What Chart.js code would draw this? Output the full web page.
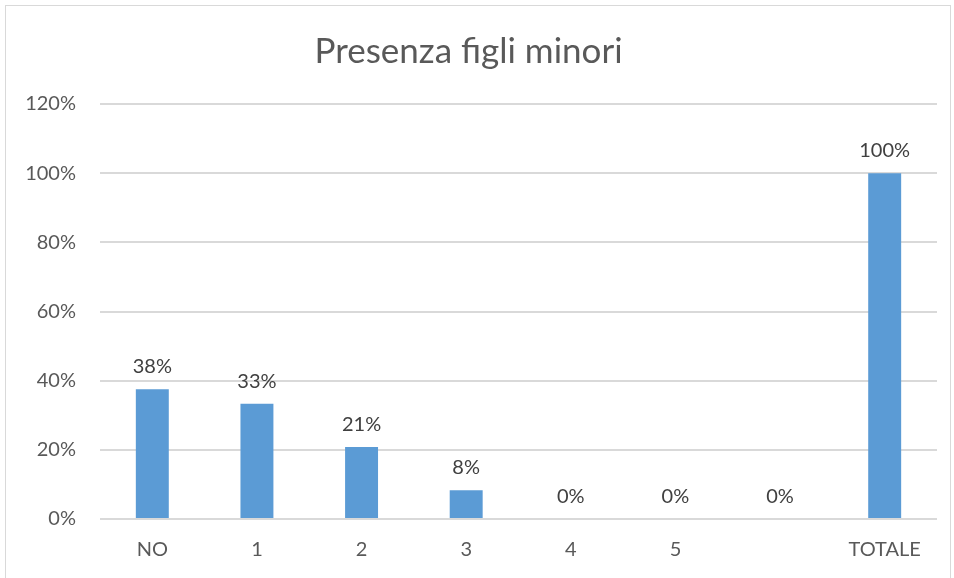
<!DOCTYPE html>
<html>
<head>
<meta charset="utf-8">
<script src="https://cdn.jsdelivr.net/npm/chart.js@4/dist/chart.umd.min.js"></script>
<style>
  html, body { margin: 0; padding: 0; background: #fff; overflow: hidden; }
  #wrap { position: relative; width: 954px; height: 578px; }
  #frame { position: absolute; left: 5px; top: 5px; width: 946px; height: 590px; border: 1px solid #d9d9d9; box-sizing: border-box; pointer-events: none; }
  canvas { position: absolute; left: 0; top: 0; }
</style>
</head>
<body>
<div id="wrap">
  <canvas id="c" width="954" height="578"></canvas>
  <div id="frame"></div>
</div>
<script>
const categories = ["NO", "1", "2", "3", "4", "5", "", "TOTALE"];
const values = [37.5, 33.3, 20.8, 8.3, 0, 0, 0, 100];
const valueLabels = ["38%", "33%", "21%", "8%", "0%", "0%", "0%", "100%"];
const yTicks = [0, 20, 40, 60, 80, 100, 120];
const chartTitle = "Presenza figli minori";

const FONT = "Lato, 'Open Sans', sans-serif";

const labelPlugin = {
  id: "valueLabels",
  afterDatasetsDraw(chart) {
    const ctx = chart.ctx;
    const meta = chart.getDatasetMeta(0);
    ctx.save();
    ctx.font = "20px " + FONT;
    ctx.fillStyle = "#404040";
    ctx.textAlign = "center";
    ctx.textBaseline = "alphabetic";
    meta.data.forEach((bar, i) => {
      ctx.fillText(valueLabels[i], bar.x, bar.y - 16);
    });
    ctx.restore();
  }
};

new Chart(document.getElementById("c"), {
  type: "bar",
  data: {
    labels: categories,
    datasets: [{
      data: values,
      backgroundColor: "#5b9bd5",
      borderWidth: 0,
      barPercentage: 0.63,
      categoryPercentage: 0.5
    }]
  },
  options: {
    responsive: false,
    animation: false,
    devicePixelRatio: 1,
    layout: { padding: { left: 0, right: 17, top: 0, bottom: 0 } },
    plugins: {
      legend: { display: false },
      tooltip: { enabled: false },
      title: {
        display: true,
        text: chartTitle,
        color: "#595959",
        font: { family: FONT, size: 35, weight: "400", lineHeight: 1.2 },
        padding: { top: 31, bottom: 31 }
      }
    },
    scales: {
      x: {
        grid: { display: false, drawTicks: false },
        border: { display: false },
        ticks: { color: "#595959", font: { family: FONT, size: 20 }, padding: 19 },
        afterFit(s) { s.height = 59; }
      },
      y: {
        min: 0, max: 120,
        afterBuildTicks(s) { s.ticks = yTicks.map(v => ({ value: v })); },
        grid: { color: "#d9d9d9", lineWidth: 2, drawTicks: false },
        border: { display: false },
        ticks: {
          color: "#595959",
          font: { family: FONT, size: 20 },
          padding: 24,
          callback: v => v + "%"
        },
        afterFit(s) { s.width = 100; }
      }
    }
  },
  plugins: [labelPlugin]
});
</script>
</body>
</html>
